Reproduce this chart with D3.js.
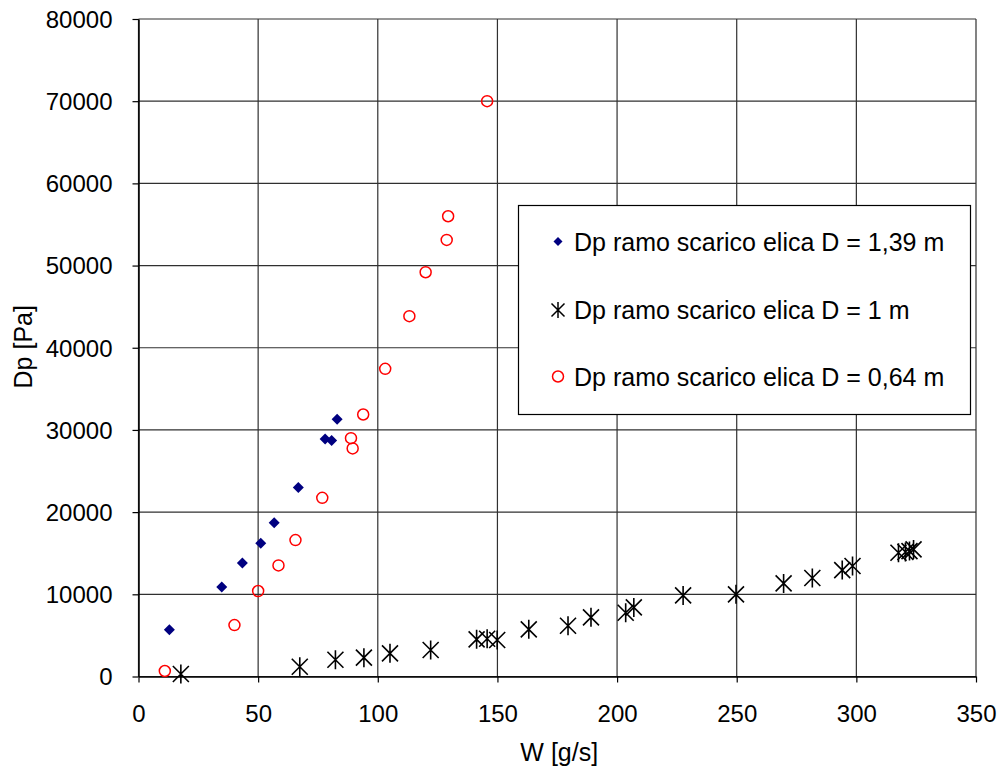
<!DOCTYPE html>
<html><head><meta charset="utf-8">
<script src="https://cdn.jsdelivr.net/npm/d3@7"></script>
<style>body{margin:0;background:#fff}svg{display:block}text{font-family:"Liberation Sans",Arial,sans-serif}</style>
</head><body><svg id="c" width="1005" height="775"></svg>
<script>
const seriesNames = ["Dp ramo scarico elica D = 1,39 m","Dp ramo scarico elica D = 1 m","Dp ramo scarico elica D = 0,64 m"];
const xD139 = [12.9,34.8,43.4,51.1,56.7,66.8,78.0,80.7,83.0];
const yD139 = [5700,10900,13800,16200,18700,23000,28900,28700,31300];
const xD1 = [17.7,67.4,82.3,94.2,105.1,122.1,141.3,145.7,149.9,163.1,179.5,189.1,203.6,207.0,227.6,249.7,269.6,281.6,294.1,298.4,317.6,320.5,322.2,323.9];
const yD1 = [300,1190,2040,2290,2820,3220,4520,4600,4440,5740,6180,7200,7760,8410,9870,10000,11330,11980,12950,13440,15060,15150,15260,15460];
const xD064 = [11.0,40.1,50.0,58.5,65.6,76.8,88.8,89.5,93.9,103.1,113.2,120.0,128.8,129.4,145.7];
const yD064 = [670,6260,10400,13520,16600,21740,29000,27750,31880,37430,43840,49190,53120,56000,70000];
const xTicks = [0,50,100,150,200,250,300,350];
const yTicks = [0,10000,20000,30000,40000,50000,60000,70000,80000];
const xTitle = "W [g/s]", yTitle = "Dp [Pa]";

const svg = d3.select("#c");
const L=138.5, R=976, T=19, B=676.5;
const x = d3.scaleLinear().domain([0,350]).range([L,R]);
const y = d3.scaleLinear().domain([0,80000]).range([B,T]);
const fs = 24, fsL = 25;

// gridlines
const g = svg.append("g");
g.selectAll(".gx").data(xTicks).join("line")
  .attr("x1",d=>x(d)).attr("x2",d=>x(d)).attr("y1",T).attr("y2",B)
  .attr("stroke","#303030").attr("stroke-width",1.2);
g.selectAll(".gy").data(yTicks).join("line")
  .attr("x1",L).attr("x2",R).attr("y1",d=>y(d)).attr("y2",d=>y(d))
  .attr("stroke","#303030").attr("stroke-width",1.2);

// axes
const xa = svg.append("g").attr("transform",`translate(0,${B})`)
  .call(d3.axisBottom(x).tickValues(xTicks).tickSizeInner(6).tickSizeOuter(0).tickPadding(22));
const ya = svg.append("g").attr("transform",`translate(${L},0)`)
  .call(d3.axisLeft(y).tickValues(yTicks).tickFormat(d3.format("d")).tickSizeInner(6).tickSizeOuter(0).tickPadding(20));
[xa,ya].forEach(a=>{
  a.select(".domain").attr("stroke","#000").attr("stroke-width",1.5);
  a.selectAll(".tick line").attr("stroke","#000").attr("stroke-width",1.2);
  a.selectAll("text").attr("font-size",fs).attr("fill","#000").style("font-family","'Liberation Sans',Arial,sans-serif");
});
ya.selectAll("text").attr("dy","0.35em");

svg.append("text").attr("x",(L+R)/2+2).attr("y",761).attr("text-anchor","middle").attr("font-size",fsL).text(xTitle);
svg.append("text").attr("transform",`translate(32,${(T+B)/2-1}) rotate(-90)`).attr("text-anchor","middle").attr("font-size",fsL).text(yTitle);

// marker helpers
function diamond(sel){ sel.append("path").attr("d","M0,-5.5L5.5,0L0,5.5L-5.5,0Z").attr("fill","#000080"); }
function star(sel){ sel.append("path").attr("d","M-8,-8L8,8M-8,8L8,-8M0,-9.5L0,9.5").attr("stroke","#000").attr("stroke-width",1.6).attr("fill","none"); }
function circ(sel){ sel.append("circle").attr("r",5.5).attr("fill","none").attr("stroke","#ff0000").attr("stroke-width",1.5); }

const s1 = xD139.map((v,i)=>[v,yD139[i]]);
const s2 = xD1.map((v,i)=>[v,yD1[i]]);
const s3 = xD064.map((v,i)=>[v,yD064[i]]);

svg.append("g").selectAll("g").data(s2).join("g").attr("transform",d=>`translate(${x(d[0])},${y(d[1])})`).call(star);
svg.append("g").selectAll("g").data(s1).join("g").attr("transform",d=>`translate(${x(d[0])},${y(d[1])})`).call(diamond);
svg.append("g").selectAll("g").data(s3).join("g").attr("transform",d=>`translate(${x(d[0])},${y(d[1])})`).call(circ);

// legend
const lg = svg.append("g");
lg.append("rect").attr("x",518.5).attr("y",205.5).attr("width",452).attr("height",209).attr("fill","#fff").attr("stroke","#000").attr("stroke-width",1.2);
const rowsY = [241.5,310,376.5];
seriesNames.forEach((n,i)=>{
  const r = lg.append("g").attr("transform",`translate(558,${rowsY[i]})`);
  if(i===0) r.append("path").attr("d","M0,-4.5L4.5,0L0,4.5L-4.5,0Z").attr("fill","#000080");
  else if(i===1) r.append("path").attr("d","M-6.5,-6.5L6.5,6.5M-6.5,6.5L6.5,-6.5M0,-8L0,8").attr("stroke","#000").attr("stroke-width",1.5);
  else r.append("circle").attr("r",5.5).attr("fill","none").attr("stroke","#ff0000").attr("stroke-width",1.5);
  lg.append("text").attr("x",574).attr("y",rowsY[i]).attr("dy","0.36em").attr("font-size",fsL).text(n);
});
</script></body></html>
